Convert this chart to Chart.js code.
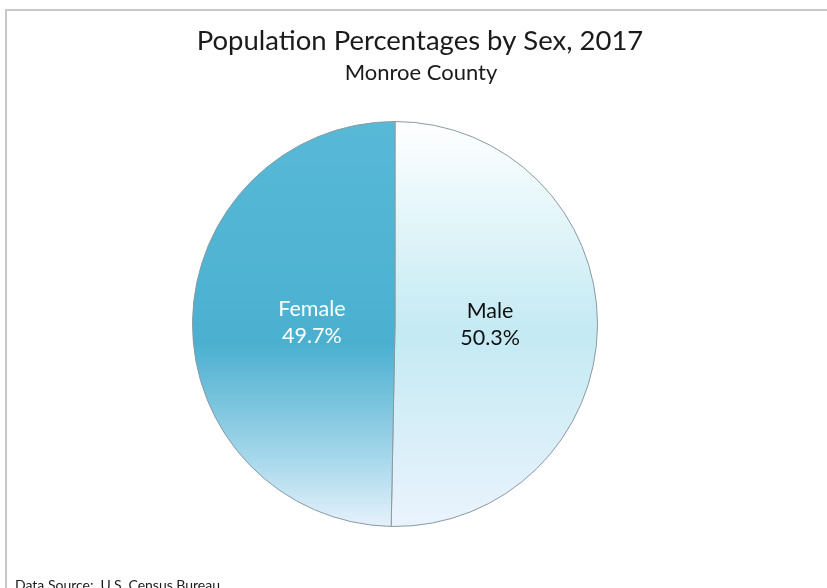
<!DOCTYPE html>
<html>
<head>
<meta charset="utf-8">
<script src="https://cdn.jsdelivr.net/npm/chart.js@4/dist/chart.umd.min.js"></script>
<style>
  html, body { margin: 0; padding: 0; background: #fff; }
  #wrap { position: relative; width: 827px; height: 588px; }
</style>
</head>
<body>
<div id="wrap"><canvas id="pieChart" width="827" height="588"></canvas></div>
<script>
// datos del grafico
const categorias = ['Male', 'Female'];
const porcentajes = [50.3, 49.7];
const titulo = 'Population Percentages by Sex, 2017';
const subtitulo = 'Monroe County';
const fuente = 'Data Source:  U.S. Census Bureau';

const FONT = 'Lato, "Open Sans", sans-serif';

// degradados verticales de cada porcion (como en Excel)
function degradado(c, area, paradas) {
    const g = c.createLinearGradient(0, area.top, 0, area.bottom);
    paradas.forEach(p => g.addColorStop(p[0], p[1]));
    return g;
}
const paradasColor = [
    [[0, '#ffffff'], [0.18, '#eaf8fb'], [0.52, '#c4eaf3'], [1, '#eaf3fd']],   // Male
    [[0, '#58b9d7'], [0.55, '#4bb0d0'], [0.82, '#a2d6ea'], [1, '#e6f1fb']]    // Female
];

// marco, titulo y fuente
const marcoPlugin = {
    id: 'marco',
    beforeDraw(chart) {
        const c = chart.ctx;
        c.save();
        c.fillStyle = '#fff';
        c.fillRect(0, 0, chart.width, chart.height);
        c.strokeStyle = '#c8c8c8';
        c.lineWidth = 2;
        c.beginPath();
        c.moveTo(6, chart.height);
        c.lineTo(6, 10);
        c.lineTo(chart.width, 10);
        c.stroke();

        c.fillStyle = '#1a1a1a';
        c.textAlign = 'center';
        c.textBaseline = 'alphabetic';
        c.font = '27.5px ' + FONT;
        c.fillText(titulo, 420, 50);
        c.font = '22px ' + FONT;
        c.fillText(subtitulo, 421, 80);

        c.textAlign = 'left';
        c.textBaseline = 'top';
        c.font = '14px ' + FONT;
        c.fillText(fuente, 15, 578);
        c.restore();
    }
};

// etiquetas dentro de las porciones
const etiquetasPlugin = {
    id: 'etiquetas',
    afterDatasetsDraw(chart) {
        const c = chart.ctx;
        const meta = chart.getDatasetMeta(0);
        c.save();
        c.font = '21.5px ' + FONT;
        c.textAlign = 'center';
        c.textBaseline = 'middle';
        meta.data.forEach((arc, i) => {
            const medio = (arc.startAngle + arc.endAngle) / 2;
            const r = arc.outerRadius * 0.44;
            const x = arc.x + Math.cos(medio) * r + 6;
            const y = arc.y + Math.sin(medio) * r;
            c.fillStyle = i === 1 ? '#ffffff' : '#111111';
            c.fillText(categorias[i], x, y - 14);
            c.fillText(porcentajes[i].toFixed(1) + '%', x, y + 13);
        });
        c.restore();
    }
};

const ctx = document.getElementById('pieChart').getContext('2d');
new Chart(ctx, {
    type: 'pie',
    data: {
        labels: categorias,
        datasets: [{
            data: porcentajes,
            backgroundColor: function(context) {
                const area = context.chart.chartArea;
                if (!area) return '#cccccc';
                return degradado(context.chart.ctx, area, paradasColor[context.dataIndex]);
            },
            borderColor: '#8a9ba2',
            borderWidth: 1
        }]
    },
    options: {
        responsive: false,
        animation: false,
        layout: {
            padding: { top: 121, bottom: 61, left: 192, right: 229 }
        },
        plugins: {
            legend: { display: false },
            tooltip: { enabled: false },
            title: { display: false }
        }
    },
    plugins: [marcoPlugin, etiquetasPlugin]
});
</script>
</body>
</html>
